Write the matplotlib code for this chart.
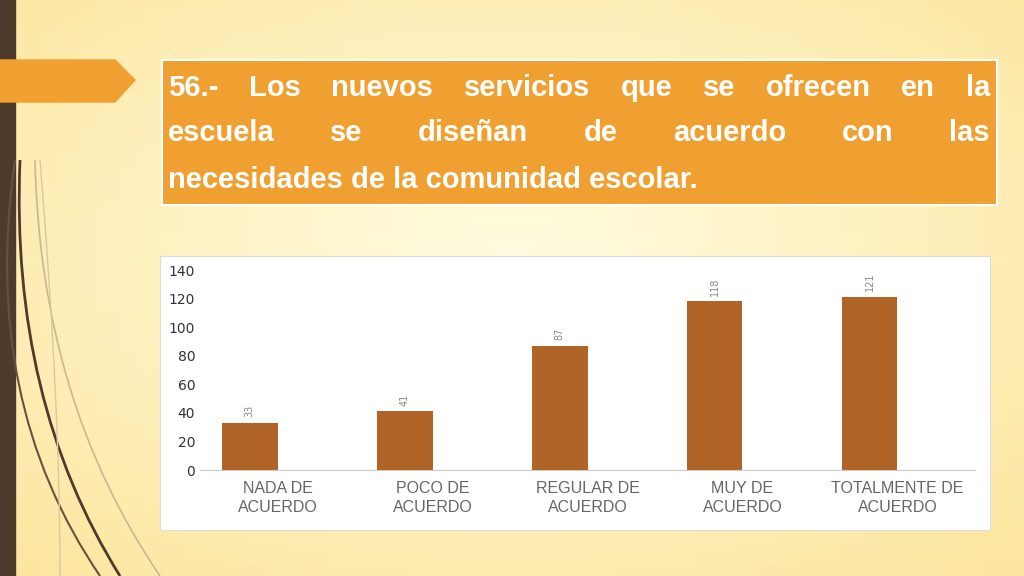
import matplotlib
matplotlib.use("Agg")
import matplotlib.pyplot as plt
import numpy as np
from matplotlib.patches import Rectangle, Polygon
from matplotlib.path import Path
from matplotlib.patches import PathPatch

categories = ["NADA DE\nACUERDO", "POCO DE\nACUERDO", "REGULAR DE\nACUERDO", "MUY DE\nACUERDO", "TOTALMENTE DE\nACUERDO"]
values = [33, 41, 87, 118, 121]
yticks = [0, 20, 40, 60, 80, 100, 120, 140]
title_lines = ["56.- Los nuevos servicios que se ofrecen en la",
               "escuela se diseñan de acuerdo con las",
               "necesidades de la comunidad escolar."]

W, H = 1024, 576
fig = plt.figure(figsize=(W/100, H/100), dpi=100)
bg = fig.add_axes([0, 0, 1, 1]); bg.set_xlim(0, W); bg.set_ylim(H, 0); bg.axis("off")
grad = np.zeros((50, 50, 3))
xx, yy = np.meshgrid(np.linspace(0, 1, 50), np.linspace(0, 1, 50))
r = np.sqrt((xx-0.5)**2 + (yy-0.45)**2)
c1 = np.array([1.0, 0.99, 0.88]); c2 = np.array([0.99, 0.90, 0.62])
t = np.clip(r/0.75, 0, 1)[..., None]
grad = c1*(1-t) + c2*t
bg.imshow(grad, extent=[0, W, H, 0], aspect="auto", zorder=0)
bg.add_patch(Rectangle((0, 0), 15, H, color="#4E3B2C", zorder=1))
bg.add_patch(Polygon([[0, 60], [115, 60], [135, 80], [115, 102], [0, 102]], color="#F0A030", zorder=1))
# decorative curves
for (x0, x1, xm, col, lw) in [(20, 120, 10, "#4E3B2C", 2), (35, 160, 40, "#C8B890", 1.2), (15, 100, -20, "#6B5040", 1.5), (40, 60, 60, "#D8C8A0", 1)]:
    p = Path([(x0, 160), (xm, 400), (x1, 576)], [Path.MOVETO, Path.CURVE3, Path.CURVE3])
    bg.add_patch(PathPatch(p, fill=False, ec=col, lw=lw, zorder=1))
bg.add_patch(Rectangle((162, 60), 835, 145, fc="#F0A030", ec="white", lw=1.5, zorder=2))
bg.add_patch(Rectangle((160, 256), 830, 274, fc="white", ec="#DDDDDD", lw=0.8, zorder=2))

fig.canvas.draw()
rend = fig.canvas.get_renderer()
fs = 21
xl, xr = 168, 990
ys = [88, 133, 180]
for i, line in enumerate(title_lines):
    if i == 2:
        bg.text(xl, ys[i], line, fontsize=fs, fontweight="bold", color="white", family="Liberation Sans", va="center", zorder=3)
        continue
    words = line.split()
    ts = [bg.text(0, ys[i], w, fontsize=fs, fontweight="bold", color="white", family="Liberation Sans", va="center", zorder=3) for w in words]
    widths = [tt.get_window_extent(rend).width for tt in ts]
    gap = (xr - xl - sum(widths)) / (len(words) - 1)
    x = xl
    for tt, wdt in zip(ts, widths):
        tt.set_x(x); x += wdt + gap

ax = fig.add_axes([200/W, 1-470/H, 775/W, 200/H])
ax.set_facecolor("none")
x = np.arange(len(values))
ax.bar(x - 0.18, values, width=0.36, color="#B06428", zorder=3)
for xi, v in zip(x, values):
    ax.text(xi - 0.18, v + 4, str(v), rotation=90, ha="center", va="bottom", fontsize=7, color="#888888")
ax.set_xlim(-0.5, 4.5); ax.set_ylim(0, 140)
ax.set_yticks(yticks)
ax.set_xticks(x)
ax.set_xticklabels(categories, fontsize=11.5, color="#666666", family="Liberation Sans", linespacing=1.3)
ax.tick_params(axis="y", labelsize=10, colors="#333333", length=0)
ax.tick_params(axis="x", length=0, pad=8)
for s in ["top", "right", "left"]:
    ax.spines[s].set_visible(False)
ax.spines["bottom"].set_color("#CCCCCC")
fig.savefig("out.png", dpi=100)
